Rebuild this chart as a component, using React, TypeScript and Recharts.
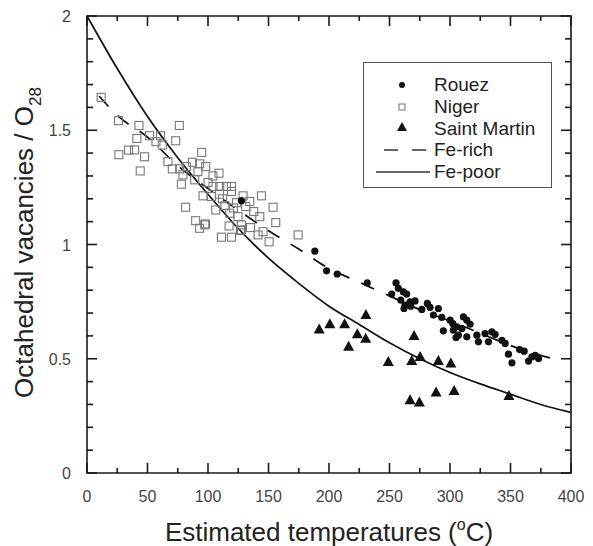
import React from 'react';
import { ComposedChart, Scatter, Line, XAxis, YAxis, Legend } from 'recharts';

// temperature (°C), octahedral vacancies / O28
const rouezPts = [
  [127.6, 1.192], [188.3, 0.971], [198, 0.885], [206.8, 0.871], [231.6, 0.832], [255.4, 0.832],
  [257.3, 0.808], [261.4, 0.793], [264.2, 0.783], [251.8, 0.783], [259.3, 0.757], [267, 0.749],
  [271.1, 0.753], [262.8, 0.735], [267.5, 0.73], [262, 0.72], [276.7, 0.716], [281.3, 0.742],
  [283.5, 0.725], [290.4, 0.72], [286.3, 0.691], [293.2, 0.681], [300.1, 0.669], [302.3, 0.654],
  [311.1, 0.683], [313.9, 0.669], [316.6, 0.651], [305.6, 0.64], [309.8, 0.632], [294.5, 0.622],
  [302.8, 0.625], [306.9, 0.603], [313.9, 0.596], [305, 0.593], [322.2, 0.603], [323.5, 0.574],
  [331.8, 0.574], [329, 0.61], [334.6, 0.618], [337.3, 0.607], [342.9, 0.581], [345.6, 0.567],
  [348.3, 0.52], [351.2, 0.482], [357.5, 0.54], [361.3, 0.533], [364.9, 0.49], [367.7, 0.508],
  [373.2, 0.501], [370.4, 0.515],
];

const nigerPts = [
  [11.7, 1.644], [26, 1.542], [42.9, 1.521], [76.3, 1.521], [41.2, 1.464], [51.7, 1.476],
  [60.8, 1.476], [73.3, 1.454], [62.2, 1.435], [57, 1.45], [26.3, 1.393], [34.4, 1.413],
  [39.3, 1.414], [47.6, 1.384], [44, 1.322], [94.8, 1.403], [66.9, 1.363], [70.5, 1.331],
  [76.6, 1.331], [82.1, 1.341], [87.1, 1.36], [93.1, 1.353], [98.1, 1.341], [79.3, 1.305],
  [91.7, 1.319], [78, 1.264], [89, 1.283], [104.1, 1.3], [109.1, 1.312], [100, 1.271],
  [104.1, 1.254], [109.7, 1.254], [115.2, 1.254], [119.4, 1.254], [95.9, 1.213], [102.8, 1.21],
  [109.5, 1.22], [119.4, 1.232], [129, 1.213], [144.2, 1.213], [134.5, 1.188], [123.5, 1.183],
  [131.2, 1.166], [137.8, 1.144], [153.8, 1.163], [81.5, 1.163], [106.4, 1.151], [118, 1.137],
  [124.8, 1.122], [142.8, 1.122], [156, 1.096], [89.8, 1.104], [97.3, 1.086], [93.1, 1.071],
  [117.4, 1.081], [127.6, 1.086], [135.1, 1.074], [111.1, 1.032], [119.4, 1.032], [127.6, 1.064],
  [141.4, 1.042], [145.5, 1.056], [150.5, 1.012], [174.5, 1.042], [126.8, 1.061], [112, 1.2],
  [114, 1.17], [121, 1.16], [98, 1.09],
];

const saintMartinPts = [
  [191.9, 0.628], [200.7, 0.651], [212.9, 0.651], [230.5, 0.691], [223.4, 0.607], [230.3, 0.588],
  [216.2, 0.552], [249, 0.486], [268.4, 0.49], [270.3, 0.6], [275.3, 0.508], [290.4, 0.49],
  [300.7, 0.479], [267, 0.318], [274.7, 0.309], [288.5, 0.352], [303.4, 0.359], [348.7, 0.337],
];

// fitted curves
const feRichPts = [
  [10, 1.65], [25, 1.565], [50, 1.47], [75, 1.345], [100, 1.245], [125, 1.15], [150, 1.06],
  [175, 0.98], [200, 0.895], [225, 0.835], [250, 0.775], [275, 0.715], [300, 0.665],
  [325, 0.612], [350, 0.558], [375, 0.515], [392, 0.49],
];
const fePoorPts = [
  [0, 2.0], [25, 1.77], [50, 1.56], [75, 1.38], [100, 1.22], [125, 1.07], [150, 0.94],
  [175, 0.83], [200, 0.73], [225, 0.65], [250, 0.57], [275, 0.5], [300, 0.44], [325, 0.39],
  [350, 0.345], [375, 0.3], [400, 0.265],
];

const X_MIN = 0, X_MAX = 400, Y_MIN = 0, Y_MAX = 2;
const xTicks = [0, 25, 50, 75, 100, 125, 150, 175, 200, 225, 250, 275, 300, 325, 350, 375, 400];
const yTicks = [0, 0.1, 0.2, 0.3, 0.4, 0.5, 0.6, 0.7, 0.8, 0.9, 1, 1.1, 1.2, 1.3, 1.4, 1.5, 1.6, 1.7, 1.8, 1.9, 2];

const toRows = (pts: number[][]) => pts.map(([x, y]) => ({ x, y }));
const rouez = toRows(rouezPts);
const niger = toRows(nigerPts);
const saintMartin = toRows(saintMartinPts);
const feRich = toRows(feRichPts);
const fePoor = toRows(fePoorPts);

// plot box and inward tick marks, placed through the chart's own scales
const frame = [
  { x: X_MIN, y: Y_MIN }, { x: X_MAX, y: Y_MIN }, { x: X_MAX, y: Y_MAX },
  { x: X_MIN, y: Y_MAX }, { x: X_MIN, y: Y_MIN },
];
const bottomMarks = xTicks.map((v) => ({ x: v, y: Y_MIN, v }));
const topMarks = xTicks.map((v) => ({ x: v, y: Y_MAX, v }));
const leftMarks = yTicks.map((v) => ({ x: X_MIN, y: v, v }));
const rightMarks = yTicks.map((v) => ({ x: X_MAX, y: v, v }));

const FONT = '"Liberation Sans", Arial, sans-serif';
const INK = '#1a1a1a';

const isMajorX = (v: number) => v % 50 === 0;
const isMajorY = (v: number) => Math.abs(v * 2 - Math.round(v * 2)) < 1e-6;
const markVal = (p: any) => (p.payload && p.payload.v !== undefined ? p.payload.v : 0);

const BottomMark = (p: any) => (
  <path d={`M${p.cx},${p.cy} v${isMajorX(markVal(p)) ? -10 : -5}`} stroke={INK} strokeWidth={1.6} fill="none" />
);
const TopMark = (p: any) => (
  <path d={`M${p.cx},${p.cy} v${isMajorX(markVal(p)) ? 10 : 5}`} stroke={INK} strokeWidth={1.6} fill="none" />
);
const LeftMark = (p: any) => (
  <path d={`M${p.cx},${p.cy} h${isMajorY(markVal(p)) ? 10 : 6}`} stroke={INK} strokeWidth={1.6} fill="none" />
);
const RightMark = (p: any) => (
  <path d={`M${p.cx},${p.cy} h${isMajorY(markVal(p)) ? -10 : -6}`} stroke={INK} strokeWidth={1.6} fill="none" />
);

const BottomLabel = (p: any) => {
  const v = p.payload.value;
  if (!isMajorX(v)) return <g />;
  return (
    <text x={p.x} y={p.y + 29} textAnchor="middle" fontFamily={FONT} fontSize={16} fill="#444">
      {v}
    </text>
  );
};

const LeftLabel = (p: any) => {
  const v = p.payload.value;
  if (!isMajorY(v)) return <g />;
  return (
    <text x={p.x - 16} y={p.y + 6} textAnchor="end" fontFamily={FONT} fontSize={16} fill="#444">
      {v}
    </text>
  );
};

const XTitle = (p: any) => {
  const vb = p.viewBox;
  return (
    <text x={vb.x + vb.width / 2} y={541} textAnchor="middle" fontFamily={FONT} fontSize={26} fill="#222">
      Estimated  temperatures (<tspan fontSize={16} dy={-11}>o</tspan>
      <tspan dy={11}>C)</tspan>
    </text>
  );
};

const YTitle = (p: any) => {
  const vb = p.viewBox;
  const cy = vb.y + vb.height / 2 - 2;
  return (
    <text x={33} y={cy} transform={`rotate(-90, 33, ${cy})`} textAnchor="middle" fontFamily={FONT} fontSize={26} fill="#222">
      Octahedral vacancies / O<tspan fontSize={17} dy={8}>28</tspan>
    </text>
  );
};

const DotShape = (p: any) => <circle cx={p.cx} cy={p.cy} r={3.6} fill="#111" />;
const SquareShape = (p: any) => (
  <rect x={p.cx - 4} y={p.cy - 4} width={8} height={8} fill="none" stroke="#777" strokeWidth={1.1} />
);
const TriShape = (p: any) => (
  <path d={`M${p.cx},${p.cy - 6} L${p.cx + 5.5},${p.cy + 4} L${p.cx - 5.5},${p.cy + 4} Z`} fill="#111" />
);

const legendRows = [
  { name: 'Rouez', kind: 'dot' },
  { name: 'Niger', kind: 'square' },
  { name: 'Saint Martin', kind: 'tri' },
  { name: 'Fe-rich', kind: 'dash' },
  { name: 'Fe-poor', kind: 'solid' },
];

const LegendSymbol = ({ kind }: { kind: string }) => (
  <svg width={70} height={22}>
    {kind === 'dot' && <circle cx={38} cy={11} r={3} fill="#111" />}
    {kind === 'square' && <rect x={35} y={8} width={6} height={6} fill="none" stroke="#888" strokeWidth={1.2} />}
    {kind === 'tri' && <path d="M38,5 L43,14 L33,14 Z" fill="#111" />}
    {kind === 'dash' && <path d="M20,11 H34 M48,11 H62" stroke="#333" strokeWidth={1.5} />}
    {kind === 'solid' && <path d="M12,11 H66" stroke="#333" strokeWidth={1.5} />}
  </svg>
);

const LegendBox = () => (
  <div
    style={{
      width: 189,
      height: 126,
      boxSizing: 'border-box',
      border: '1.5px solid #555',
      paddingTop: 11,
      fontFamily: FONT,
      fontSize: 19,
      color: '#222',
      background: '#fff',
    }}
  >
    {legendRows.map((r) => (
      <div key={r.name} style={{ display: 'flex', alignItems: 'center', height: 21.7 }}>
        <LegendSymbol kind={r.kind} />
        <span style={{ lineHeight: '21px' }}>{r.name}</span>
      </div>
    ))}
  </div>
);

export default function App() {
  return (
    <div style={{ position: 'absolute', left: 0, top: 0 }}>
      <ComposedChart width={593} height={546} margin={{ top: 16, right: 22, bottom: 0, left: 0 }}>
        <XAxis
          type="number"
          dataKey="x"
          domain={[X_MIN, X_MAX]}
          ticks={xTicks}
          interval={0}
          height={73}
          tickSize={0}
          tickMargin={0}
          tickLine={false}
          axisLine={false}
          tick={BottomLabel}
          label={{ content: XTitle }}
        />
        <YAxis
          type="number"
          dataKey="y"
          domain={[Y_MIN, Y_MAX]}
          ticks={yTicks}
          interval={0}
          width={87}
          tickSize={0}
          tickMargin={0}
          tickLine={false}
          axisLine={false}
          tick={LeftLabel}
          label={{ content: YTitle }}
        />
        <Scatter name="Niger" data={niger} dataKey="y" shape={SquareShape} isAnimationActive={false} />
        <Line
          name="Fe-poor"
          data={fePoor}
          dataKey="y"
          type="monotone"
          dot={false}
          stroke="#111"
          strokeWidth={1.7}
          isAnimationActive={false}
        />
        <Line
          name="Fe-rich"
          data={feRich}
          dataKey="y"
          type="monotone"
          dot={false}
          stroke="#111"
          strokeWidth={1.7}
          strokeDasharray="14 13"
          isAnimationActive={false}
        />
        <Scatter name="Rouez" data={rouez} dataKey="y" shape={DotShape} isAnimationActive={false} />
        <Scatter name="Saint Martin" data={saintMartin} dataKey="y" shape={TriShape} isAnimationActive={false} />
        <Line
          name="frame"
          data={frame}
          dataKey="y"
          type="linear"
          dot={false}
          stroke={INK}
          strokeWidth={1.6}
          strokeLinecap="square"
          isAnimationActive={false}
          legendType="none"
        />
        <Scatter name="bottomMarks" data={bottomMarks} dataKey="y" shape={BottomMark} isAnimationActive={false} legendType="none" />
        <Scatter name="topMarks" data={topMarks} dataKey="y" shape={TopMark} isAnimationActive={false} legendType="none" />
        <Scatter name="leftMarks" data={leftMarks} dataKey="y" shape={LeftMark} isAnimationActive={false} legendType="none" />
        <Scatter name="rightMarks" data={rightMarks} dataKey="y" shape={RightMark} isAnimationActive={false} legendType="none" />
        <Legend
          layout="vertical"
          align="center"
          verticalAlign="middle"
          content={LegendBox}
          wrapperStyle={{ position: 'absolute', left: 363, top: 62, width: 189, height: 126 }}
        />
      </ComposedChart>
    </div>
  );
}
